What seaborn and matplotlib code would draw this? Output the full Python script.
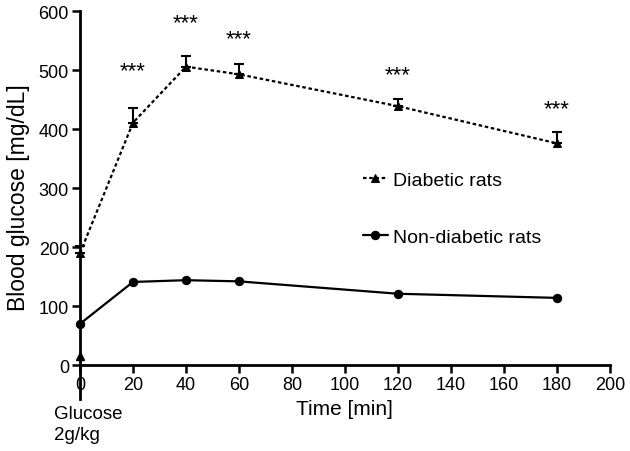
import numpy as np
import pandas as pd
import matplotlib
matplotlib.use("Agg")
import matplotlib.pyplot as plt
import seaborn as sns

# data
time_min = [0, 20, 40, 60, 120, 180]
diabetic = [190, 411, 506, 493, 439, 376]
diabetic_err = [12, 25, 18, 17, 12, 19]
non_diabetic = [70, 141, 144, 142, 121, 114]
stars_y = [None, 500, 580, 553, 493, 435]
extra_x = [0]
extra_y = [15]

sns.set_theme(style="ticks", rc={"text.color": "black", "axes.labelcolor": "black",
                                 "xtick.color": "black", "ytick.color": "black"})
plt.rcParams["font.family"] = ["Liberation Sans", "DejaVu Sans"]

df = pd.DataFrame({"Time": time_min * 2,
                   "Glucose": diabetic + non_diabetic,
                   "Group": ["Diabetic rats"] * 6 + ["Non-diabetic rats"] * 6})

fig = plt.figure(figsize=(6.3, 4.52), dpi=100)
ax = fig.add_axes([0.127, 0.19, 0.841, 0.783])

sns.lineplot(data=df[df.Group == "Diabetic rats"], x="Time", y="Glucose",
             color="black", lw=1.6, ls=(0, (1.6, 1.2)), marker="^", ms=6,
             markeredgecolor="black", ax=ax, label="Diabetic rats")
sns.lineplot(data=df[df.Group == "Non-diabetic rats"], x="Time", y="Glucose",
             color="black", lw=1.6, marker="o", ms=6,
             markeredgecolor="black", ax=ax, label="Non-diabetic rats")
ax.errorbar(time_min, diabetic, yerr=[np.zeros(len(diabetic_err)), diabetic_err],
            fmt="none", ecolor="black", elinewidth=1.5, capsize=3.5, capthick=1.5)
ax.plot(extra_x, extra_y, "^", color="black", ms=6, clip_on=False)

for x, y in zip(time_min, stars_y):
    if y is not None:
        ax.text(x, y, "***", ha="center", va="center", fontsize=16)

ax.set_xlim(0, 200)
ax.set_ylim(0, 600)
ax.set_xticks(range(0, 201, 20))
ax.set_yticks(range(0, 601, 100))
ax.tick_params(labelsize=13, width=1.8, length=6, pad=2)
for s in ["left", "bottom"]:
    ax.spines[s].set_linewidth(2)
    ax.spines[s].set_color("black")
sns.despine(ax=ax)
ax.spines["left"].set_bounds(-57, 600)
ax.set_xlabel("Time [min]", fontsize=15, labelpad=4)
ax.set_ylabel("Blood glucose [mg/dL]", fontsize=16.5)
ax.yaxis.set_label_coords(-0.094, 0.475)
ax.text(-10, -100, "Glucose\n2g/kg", fontsize=13.5, ha="left", va="center",
        linespacing=1.25)

ax.legend(loc="upper left", bbox_to_anchor=(0.52, 0.57), frameon=False,
          fontsize=14, handlelength=1.25, handletextpad=0.3, labelspacing=2.05,
          borderaxespad=0)
for line in ax.get_lines():
    line.set_clip_on(False)

fig.savefig("out.png", dpi=100)
